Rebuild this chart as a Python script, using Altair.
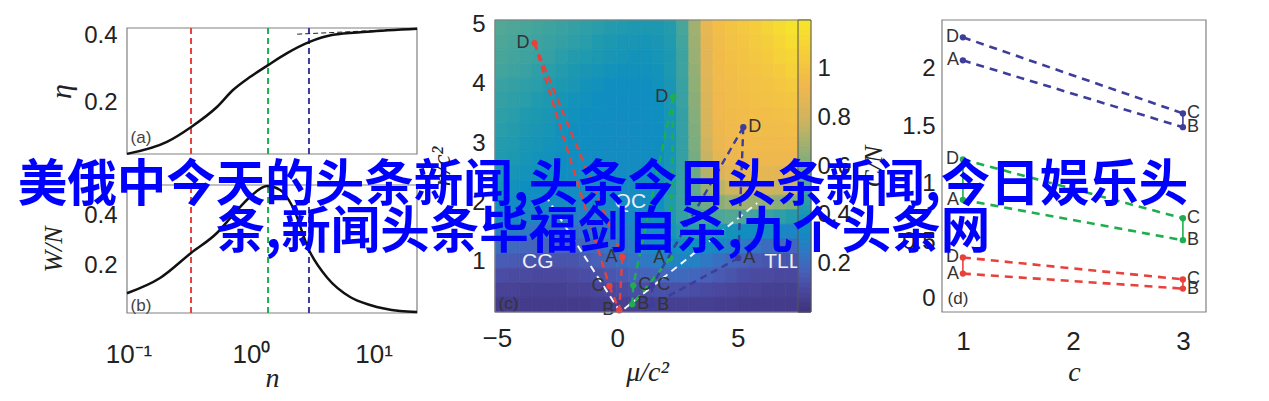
import altair as alt
import numpy as np
import pandas as pd

# ---------------- values ----------------
# panel (a): eta versus n (log axis)
N_A = [0.0973, 0.206, 0.325, 0.527, 0.713, 0.98, 1.377, 1.97, 2.97, 4.67, 8.85, 22.6]
ETA = [0.044, 0.080, 0.125, 0.185, 0.236, 0.275, 0.311, 0.347, 0.380, 0.402, 0.411, 0.420]
ASYM_N = [2.38, 22.6]
ASYM_ETA = [0.404, 0.421]
# panel (b): W/N versus n
N_B = [0.0973, 0.181, 0.324, 0.527, 0.713, 0.98, 1.35, 1.73, 2.2, 2.97, 4.17, 6.43, 9.36, 16.4, 22.6]
WN = [0.087, 0.148, 0.248, 0.328, 0.40, 0.472, 0.516, 0.50, 0.43, 0.26, 0.150, 0.072, 0.04, 0.016, 0.012]
MARK_N = [0.324, 1.377, 2.97]

# panel (c): points A, B, C, D of three trajectories
PT = ['A', 'B', 'C', 'D']
C_RED_MU = [0.21, 0.08, -0.33, -3.44]
C_RED_N = [1.08, 0.18, 0.59, 4.69]
C_GREEN_MU = [2.20, 0.62, 0.66, 2.32]
C_GREEN_N = [1.06, 0.28, 0.60, 3.78]
C_BLUE_MU = [5.02, 1.45, 1.45, 5.23]
C_BLUE_N = [1.06, 0.27, 0.60, 3.27]
C_RED_SIDE = ['L', 'L', 'L', 'L']
C_GREEN_SIDE = ['L', 'R', 'R', 'L']
C_BLUE_SIDE = ['R', 'R', 'R', 'R']
BND_MU = [-2.99, 0.12, 5.81]
BND_N = [2.12, 0.15, 1.99]
REG_TXT = ['QC', 'CG', 'TLL']
REG_MU = [0.54, -3.3, 6.85]
REG_N = [2.01, 1.0, 1.0]
# background field of panel (c): 20 rows from top (n = 5) to bottom (n = 0), 26 columns in mu
HEAT = [
    [0.52, 0.51, 0.50, 0.49, 0.48, 0.47, 0.46, 0.45, 0.44, 0.43, 0.42, 0.41, 0.41, 0.41, 0.43, 0.50, 0.68, 0.88, 0.96, 0.99, 1.02, 1.05, 1.09, 1.13, 1.17, 1.19],
    [0.51, 0.50, 0.49, 0.48, 0.47, 0.46, 0.45, 0.44, 0.42, 0.41, 0.40, 0.40, 0.39, 0.40, 0.42, 0.49, 0.67, 0.87, 0.95, 0.98, 1.00, 1.03, 1.06, 1.10, 1.14, 1.16],
    [0.50, 0.49, 0.48, 0.47, 0.46, 0.44, 0.43, 0.42, 0.41, 0.40, 0.39, 0.38, 0.38, 0.39, 0.41, 0.48, 0.66, 0.86, 0.94, 0.97, 0.99, 1.01, 1.04, 1.07, 1.10, 1.12],
    [0.49, 0.48, 0.47, 0.45, 0.44, 0.43, 0.41, 0.40, 0.39, 0.38, 0.37, 0.37, 0.37, 0.38, 0.41, 0.48, 0.65, 0.85, 0.94, 0.96, 0.98, 0.99, 1.01, 1.04, 1.07, 1.09],
    [0.47, 0.46, 0.45, 0.44, 0.42, 0.41, 0.40, 0.38, 0.37, 0.36, 0.36, 0.36, 0.36, 0.37, 0.40, 0.47, 0.64, 0.84, 0.93, 0.95, 0.97, 0.98, 0.99, 1.01, 1.03, 1.05],
    [0.46, 0.45, 0.44, 0.42, 0.41, 0.39, 0.38, 0.37, 0.36, 0.35, 0.35, 0.35, 0.35, 0.36, 0.40, 0.47, 0.63, 0.83, 0.92, 0.95, 0.96, 0.97, 0.98, 0.99, 1.00, 1.02],
    [0.45, 0.44, 0.42, 0.41, 0.40, 0.38, 0.37, 0.36, 0.35, 0.34, 0.34, 0.34, 0.35, 0.36, 0.39, 0.46, 0.62, 0.82, 0.92, 0.94, 0.95, 0.96, 0.96, 0.97, 0.98, 0.99],
    [0.44, 0.43, 0.41, 0.40, 0.39, 0.37, 0.36, 0.35, 0.34, 0.34, 0.33, 0.34, 0.34, 0.35, 0.39, 0.46, 0.61, 0.81, 0.91, 0.93, 0.94, 0.95, 0.95, 0.95, 0.96, 0.97],
    [0.43, 0.42, 0.40, 0.39, 0.38, 0.37, 0.36, 0.35, 0.34, 0.33, 0.33, 0.33, 0.34, 0.35, 0.39, 0.46, 0.60, 0.79, 0.90, 0.92, 0.93, 0.93, 0.93, 0.93, 0.94, 0.94],
    [0.42, 0.41, 0.39, 0.38, 0.37, 0.36, 0.35, 0.34, 0.34, 0.33, 0.33, 0.33, 0.34, 0.35, 0.39, 0.46, 0.59, 0.76, 0.87, 0.90, 0.91, 0.91, 0.91, 0.91, 0.91, 0.91],
    [0.40, 0.39, 0.38, 0.37, 0.36, 0.35, 0.35, 0.34, 0.33, 0.33, 0.33, 0.33, 0.34, 0.35, 0.40, 0.46, 0.57, 0.72, 0.82, 0.86, 0.87, 0.87, 0.87, 0.86, 0.86, 0.86],
    [0.38, 0.37, 0.36, 0.35, 0.34, 0.34, 0.33, 0.33, 0.33, 0.32, 0.32, 0.33, 0.34, 0.36, 0.41, 0.47, 0.55, 0.66, 0.74, 0.78, 0.79, 0.79, 0.78, 0.77, 0.76, 0.75],
    [0.35, 0.34, 0.33, 0.32, 0.31, 0.31, 0.31, 0.31, 0.31, 0.31, 0.31, 0.32, 0.34, 0.36, 0.42, 0.47, 0.52, 0.58, 0.63, 0.66, 0.67, 0.66, 0.65, 0.63, 0.61, 0.60],
    [0.31, 0.30, 0.29, 0.28, 0.27, 0.27, 0.27, 0.28, 0.28, 0.29, 0.30, 0.31, 0.33, 0.36, 0.41, 0.46, 0.49, 0.50, 0.51, 0.52, 0.51, 0.49, 0.47, 0.45, 0.43, 0.42],
    [0.26, 0.25, 0.24, 0.23, 0.22, 0.22, 0.22, 0.23, 0.24, 0.25, 0.27, 0.29, 0.31, 0.35, 0.39, 0.43, 0.44, 0.42, 0.40, 0.38, 0.36, 0.34, 0.32, 0.30, 0.29, 0.28],
    [0.20, 0.19, 0.18, 0.17, 0.17, 0.17, 0.17, 0.18, 0.20, 0.22, 0.24, 0.26, 0.29, 0.32, 0.35, 0.37, 0.36, 0.33, 0.30, 0.27, 0.24, 0.22, 0.20, 0.19, 0.18, 0.17],
    [0.15, 0.14, 0.13, 0.12, 0.12, 0.12, 0.12, 0.14, 0.16, 0.18, 0.20, 0.22, 0.24, 0.26, 0.28, 0.29, 0.27, 0.24, 0.21, 0.18, 0.16, 0.14, 0.13, 0.13, 0.12, 0.12],
    [0.10, 0.09, 0.09, 0.08, 0.08, 0.08, 0.09, 0.10, 0.11, 0.13, 0.14, 0.16, 0.17, 0.18, 0.19, 0.19, 0.18, 0.16, 0.14, 0.12, 0.10, 0.09, 0.09, 0.08, 0.08, 0.08],
    [0.06, 0.06, 0.05, 0.05, 0.05, 0.05, 0.06, 0.06, 0.07, 0.08, 0.09, 0.10, 0.10, 0.11, 0.11, 0.11, 0.10, 0.09, 0.08, 0.07, 0.06, 0.06, 0.05, 0.05, 0.05, 0.05],
    [0.03, 0.03, 0.03, 0.03, 0.03, 0.03, 0.03, 0.03, 0.04, 0.04, 0.05, 0.05, 0.05, 0.05, 0.05, 0.05, 0.05, 0.05, 0.04, 0.04, 0.03, 0.03, 0.03, 0.03, 0.03, 0.03],
]
CBAR_TICKS = [0.2, 0.4, 0.6, 0.8, 1]

# panel (d): points A, B, C, D versus c
D_C = [1, 3, 3, 1]
D_RED = [0.22, 0.09, 0.17, 0.36]
D_GREEN = [0.86, 0.51, 0.70, 1.21]
D_BLUE = [2.07, 1.49, 1.61, 2.27]
D_SIDE = ['L', 'R', 'R', 'L']

LINE1 = '美俄中今天的头条新闻,头条今日头条新闻,今日娱乐头'
LINE2 = '条,新闻头条毕福剑自杀,九个头条网'

# ---------------- layout / style ----------------
W, H = 1253, 385


def px(p):
    return p - 8


SANS = 'Liberation Sans'
SERIF = 'Liberation Serif'
FRAME = '#808080'
TXT = '#333333'
RED, GREEN, BLUE = '#e8413c', '#1fae4f', '#3d3d9c'
LAB = 24
XLAB = 26

HEAT_DOM = [0, 0.08, 0.16, 0.24, 0.31, 0.36, 0.42, 0.50, 0.62, 0.78, 0.92, 1.05, 1.2]
HEAT_RNG = ['#40357e', '#4a479e', '#4760b8', '#2f78c4', '#178ac4', '#0f8fc0', '#1f9aae',
            '#48a59a', '#86ae7a', '#cfb460', '#f0b84e', '#f5cd3c', '#f6e82a']
HEAT_SCALE = alt.Scale(domain=HEAT_DOM, range=HEAT_RNG, interpolate='rgb')

N_DOM = [0.0973, 22.6]
A_DOM = [0.0436, 0.4226]
B_DOM = [0.008, 0.52]
MU_DOM = [-5.08, 8.0]
NC_DOM = [0.15, 5.08]
CB_DOM = [0, 1.2]
CD_DOM = [0.81, 3.21]
ED_DOM = [-0.113, 2.42]

X_N = alt.Scale(type='log', domain=N_DOM, range=[px(127), px(417)], nice=False)
Y_A = alt.Scale(domain=A_DOM, range=[px(154), px(28)], nice=False, zero=False)
Y_B = alt.Scale(domain=B_DOM, range=[px(313), px(185)], nice=False, zero=False)
X_C = alt.Scale(domain=MU_DOM, range=[px(495), px(810)], nice=False, zero=False)
Y_C = alt.Scale(domain=NC_DOM, range=[px(312), px(20)], nice=False, zero=False)
X_CB = alt.Scale(domain=[0, 1], range=[px(798), px(811)], nice=False, zero=False)
Y_CB = alt.Scale(domain=CB_DOM, range=[px(312), px(20)], nice=False, zero=False)
X_D = alt.Scale(domain=CD_DOM, range=[px(942), px(1206)], nice=False, zero=False)
Y_D = alt.Scale(domain=ED_DOM, range=[px(312), px(20)], nice=False, zero=False)

TITLE_STYLE = dict(titleFont=SERIF, titleFontStyle='italic', titleFontWeight='normal',
                   titleColor='#222222', titleBaseline='middle')


def left_axis(axis_page_x, values, title, title_page_x, pad, tsize=26):
    return alt.Axis(orient='left', offset=-px(axis_page_x), values=values, format='~g',
                    labelFontSize=LAB, labelPadding=pad, title=title,
                    titleX=title_page_x - axis_page_x, titleFontSize=tsize, titleAngle=270,
                    **TITLE_STYLE)


def bottom_axis(axis_page_y, values, title, title_page_y, pad, title_page_x=None, expr=None):
    kw = dict(orient='bottom', offset=-(H - px(axis_page_y)), values=values, format='~g',
              labelFontSize=XLAB, labelPadding=pad, title=title,
              titleY=title_page_y - axis_page_y, titleFontSize=28, **TITLE_STYLE)
    if title_page_x is not None:
        kw['titleX'] = px(title_page_x)
    if expr is not None:
        kw['labelExpr'] = expr
    return alt.Axis(**kw)


AX_Y_A = left_axis(127, [0.2, 0.4], 'η', 61, 10, tsize=30)
AX_Y_B = left_axis(127, [0.2, 0.4], 'W/N', 53, 10)
AX_X_B = bottom_axis(313, [0.1, 1, 10], 'n', 378, 28,
                     expr="datum.value < 0.5 ? '10⁻¹' : datum.value < 5 ? '10⁰' : '10¹'")
AX_Y_C = left_axis(495, [1, 2, 3, 4, 5], 'n/c²', 441, 10)
AX_X_C = bottom_axis(312, [-5, 0, 5], 'μ/c²', 372, 13, title_page_x=647)
AX_Y_CB = alt.Axis(orient='right', offset=px(811) - W, values=CBAR_TICKS, format='~g',
                   labelFontSize=LAB, labelPadding=6, title=None)
AX_Y_D = left_axis(942, [0, 0.5, 1, 1.5, 2], 'C/N', 873, 7)
AX_X_D = bottom_axis(312, [1, 2, 3], 'c', 372, 16)


def xa():
    return alt.X('n:Q', scale=X_N, axis=None)


def ya():
    return alt.Y('eta:Q', scale=Y_A, axis=AX_Y_A)


def xb():
    return alt.X('n:Q', scale=X_N, axis=AX_X_B)


def yb():
    return alt.Y('w:Q', scale=Y_B, axis=AX_Y_B)


def xc():
    return alt.X('mu:Q', scale=X_C, axis=AX_X_C)


def yc():
    return alt.Y('nc:Q', scale=Y_C, axis=AX_Y_C)


def xd():
    return alt.X('c:Q', scale=X_D, axis=AX_X_D)


def yd():
    return alt.Y('e:Q', scale=Y_D, axis=AX_Y_D)


def frame(xf, yf, xdom, ydom, xenc, yenc):
    df = pd.DataFrame({xf: [xdom[0]], xf + '2': [xdom[1]], yf: [ydom[0]], yf + '2': [ydom[1]]})
    return alt.Chart(df).mark_rect(fillOpacity=0, stroke=FRAME, strokeWidth=1.2).encode(
        x=xenc, x2=alt.X2(xf + '2'), y=yenc, y2=alt.Y2(yf + '2'))


def seg_df(xs, ys, pairs, xf, yf):
    rows = []
    for k, (i, j) in enumerate(pairs):
        rows.append({'seg': k, 'ord': 0, xf: xs[i], yf: ys[i]})
        rows.append({'seg': k, 'ord': 1, xf: xs[j], yf: ys[j]})
    return pd.DataFrame(rows)


def vrules(yf, ydom, xenc, yenc):
    layers = []
    for nval, col in zip(MARK_N, [RED, GREEN, BLUE]):
        df = pd.DataFrame({'n': [nval], yf: [ydom[0]], yf + '2': [ydom[1]]})
        layers.append(alt.Chart(df).mark_rule(color=col, strokeDash=[6, 4], strokeWidth=2).encode(
            x=xenc, y=yenc, y2=alt.Y2(yf + '2')))
    return layers


# ---------------- panel (a) ----------------
pa = alt.layer(
    frame('n', 'eta', N_DOM, A_DOM, xa(), ya()),
    *vrules('eta', A_DOM, xa(), ya()),
    alt.Chart(pd.DataFrame({'n': ASYM_N, 'eta': ASYM_ETA})).mark_line(
        color='#222222', strokeDash=[5, 3], strokeWidth=1).encode(x=xa(), y=ya()),
    alt.Chart(pd.DataFrame({'n': N_A, 'eta': ETA})).mark_line(
        color='#111111', strokeWidth=2.5, interpolate='monotone').encode(x=xa(), y=ya()),
    alt.Chart(pd.DataFrame({'n': [0.1265], 'eta': [0.093], 't': ['(a)']})).mark_text(
        font=SANS, fontSize=17, color='#444444').encode(x=xa(), y=ya(), text='t:N'),
)

# ---------------- panel (b) ----------------
pb = alt.layer(
    frame('n', 'w', N_DOM, B_DOM, xb(), yb()),
    *vrules('w', B_DOM, xb(), yb()),
    alt.Chart(pd.DataFrame({'n': N_B, 'w': WN})).mark_line(
        color='#111111', strokeWidth=2.5, interpolate='monotone').encode(x=xb(), y=yb()),
    alt.Chart(pd.DataFrame({'n': [0.1265], 'w': [0.036], 't': ['(b)']})).mark_text(
        font=SANS, fontSize=17, color='#444444').encode(x=xb(), y=yb(), text='t:N'),
)

# ---------------- panel (c) ----------------
mu_edges = np.linspace(MU_DOM[0], MU_DOM[1], len(HEAT[0]) + 1)
n_edges = np.linspace(NC_DOM[0], NC_DOM[1], len(HEAT) + 1)
rows = []
for r, row in enumerate(HEAT):
    k = len(HEAT) - 1 - r
    for j, v in enumerate(row):
        rows.append({'mu': mu_edges[j], 'mu2': mu_edges[j + 1],
                     'nc': n_edges[k], 'nc2': n_edges[k + 1], 'v': v})
heat_df = pd.DataFrame(rows)
heat = alt.Chart(heat_df).mark_rect(strokeWidth=0.8).encode(
    x=xc(), x2='mu2', y=yc(), y2='nc2',
    color=alt.Color('v:Q', scale=HEAT_SCALE, legend=None),
    stroke=alt.Stroke('v:Q', scale=HEAT_SCALE, legend=None))

bnd = alt.Chart(pd.DataFrame({'mu': BND_MU, 'nc': BND_N, 'o': [0, 1, 2]})).mark_line(
    color='#f4f4f8', strokeDash=[7, 5], strokeWidth=2).encode(x=xc(), y=yc(), order='o:Q')

reg = alt.Chart(pd.DataFrame({'mu': REG_MU, 'nc': REG_N, 't': REG_TXT})).mark_text(
    font=SANS, fontSize=21, color='#eeeef4').encode(x=xc(), y=yc(), text='t:N')

C_PAIRS = [(3, 0), (3, 2), (0, 1), (2, 1)]
c_layers = []
for mus, ns, sides, col in [(C_RED_MU, C_RED_N, C_RED_SIDE, RED),
                            (C_GREEN_MU, C_GREEN_N, C_GREEN_SIDE, GREEN),
                            (C_BLUE_MU, C_BLUE_N, C_BLUE_SIDE, BLUE)]:
    c_layers.append(alt.Chart(seg_df(mus, ns, C_PAIRS, 'mu', 'nc')).mark_line(
        color=col, strokeDash=[7, 5], strokeWidth=2.4).encode(
        x=xc(), y=yc(), detail='seg:N', order='ord:Q'))
    pdf = pd.DataFrame({'mu': mus, 'nc': ns, 't': PT, 's': sides})
    c_layers.append(alt.Chart(pdf).mark_circle(color=col, size=40, opacity=1).encode(x=xc(), y=yc()))
    c_layers.append(alt.Chart(pdf).mark_text(
        font=SANS, fontSize=18, color=TXT, align='right', dx=-5).encode(
        x=xc(), y=yc(), text='t:N').transform_filter("datum.s == 'L'"))
    c_layers.append(alt.Chart(pdf).mark_text(
        font=SANS, fontSize=18, color=TXT, align='left', dx=5).encode(
        x=xc(), y=yc(), text='t:N').transform_filter("datum.s == 'R'"))

lab_c = alt.Chart(pd.DataFrame({'mu': [-4.52], 'nc': [0.28], 't': ['(c)']})).mark_text(
    font=SANS, fontSize=17, color='#333333').encode(x=xc(), y=yc(), text='t:N')

pc = alt.layer(heat, bnd, reg, *c_layers, lab_c,
               frame('mu', 'nc', MU_DOM, NC_DOM, xc(), yc()))

# ---------------- colour bar ----------------
cb_v = np.round(np.arange(0, 1.2, 0.02), 2)
cb_df = pd.DataFrame({'x': 0.0, 'x2': 1.0, 'v': cb_v, 'v2': np.round(cb_v + 0.02, 2)})
xcb = alt.X('x:Q', scale=X_CB, axis=None)
ycb = alt.Y('v:Q', scale=Y_CB, axis=AX_Y_CB)
cbar = alt.layer(
    alt.Chart(cb_df).mark_rect(strokeWidth=0.8).encode(
        x=xcb, x2='x2', y=ycb, y2='v2',
        color=alt.Color('v:Q', scale=HEAT_SCALE, legend=None),
        stroke=alt.Stroke('v:Q', scale=HEAT_SCALE, legend=None)),
    alt.Chart(pd.DataFrame({'x': [0.0], 'x2': [1.0], 'v': [0.0], 'v2': [1.2]})).mark_rect(
        fillOpacity=0, stroke='#555555', strokeWidth=1).encode(x=xcb, x2='x2', y=ycb, y2='v2'),
)

# ---------------- panel (d) ----------------
d_layers = [frame('c', 'e', CD_DOM, ED_DOM, xd(), yd())]
for vals, col, solid_pairs in [(D_RED, RED, [(3, 0), (2, 1)]),
                               (D_GREEN, GREEN, [(3, 0), (2, 1)]),
                               (D_BLUE, BLUE, [(2, 1)])]:
    d_layers.append(alt.Chart(seg_df(D_C, vals, [(3, 2), (0, 1)], 'c', 'e')).mark_line(
        color=col, strokeDash=[8, 6], strokeWidth=2.6).encode(
        x=xd(), y=yd(), detail='seg:N', order='ord:Q'))
    d_layers.append(alt.Chart(seg_df(D_C, vals, solid_pairs, 'c', 'e')).mark_line(
        color=col, strokeWidth=1.6).encode(x=xd(), y=yd(), detail='seg:N', order='ord:Q'))
    pdf = pd.DataFrame({'c': D_C, 'e': vals, 't': PT, 's': D_SIDE})
    d_layers.append(alt.Chart(pdf).mark_circle(color=col, size=40, opacity=1).encode(x=xd(), y=yd()))
    d_layers.append(alt.Chart(pdf).mark_text(
        font=SANS, fontSize=18, color=TXT, align='right', dx=-4).encode(
        x=xd(), y=yd(), text='t:N').transform_filter("datum.s == 'L'"))
    d_layers.append(alt.Chart(pdf).mark_text(
        font=SANS, fontSize=18, color=TXT, align='left', dx=4).encode(
        x=xd(), y=yd(), text='t:N').transform_filter("datum.s == 'R'"))
d_layers.append(alt.Chart(pd.DataFrame({'c': [0.955], 'e': [0.0], 't': ['(d)']})).mark_text(
    font=SANS, fontSize=17, color='#333333').encode(x=xd(), y=yd(), text='t:N'))
pd_ = alt.layer(*d_layers)

# ---------------- overlaid headline ----------------
ov1 = alt.Chart(pd.DataFrame({'t': [LINE1]})).mark_text(
    font='Noto Sans CJK SC', fontWeight='bold', fontSize=49.5, color='#0000ff',
    align='center', baseline='middle').encode(
    x=alt.value(px(603)), y=alt.value(px(185.5)), text='t:N')
ov2 = alt.Chart(pd.DataFrame({'t': [LINE2]})).mark_text(
    font='Noto Sans CJK SC', fontWeight='bold', fontSize=49.5, color='#0000ff',
    align='center', baseline='middle').encode(
    x=alt.value(px(603)), y=alt.value(px(233)), text='t:N')

chart = alt.layer(pa, pb, pc, cbar, pd_, ov1, ov2).resolve_scale(
    x='independent', y='independent', color='independent', stroke='independent'
).properties(
    width=W, height=H, autosize=alt.AutoSizeParams(type='none'), padding=0,
    background='white'
).configure_view(stroke=None).configure_axis(
    grid=False, domain=False, ticks=False, labelFont=SANS, labelColor='#222222'
)

chart.save('out.html', embed_options={'renderer': 'svg', 'actions': False})
